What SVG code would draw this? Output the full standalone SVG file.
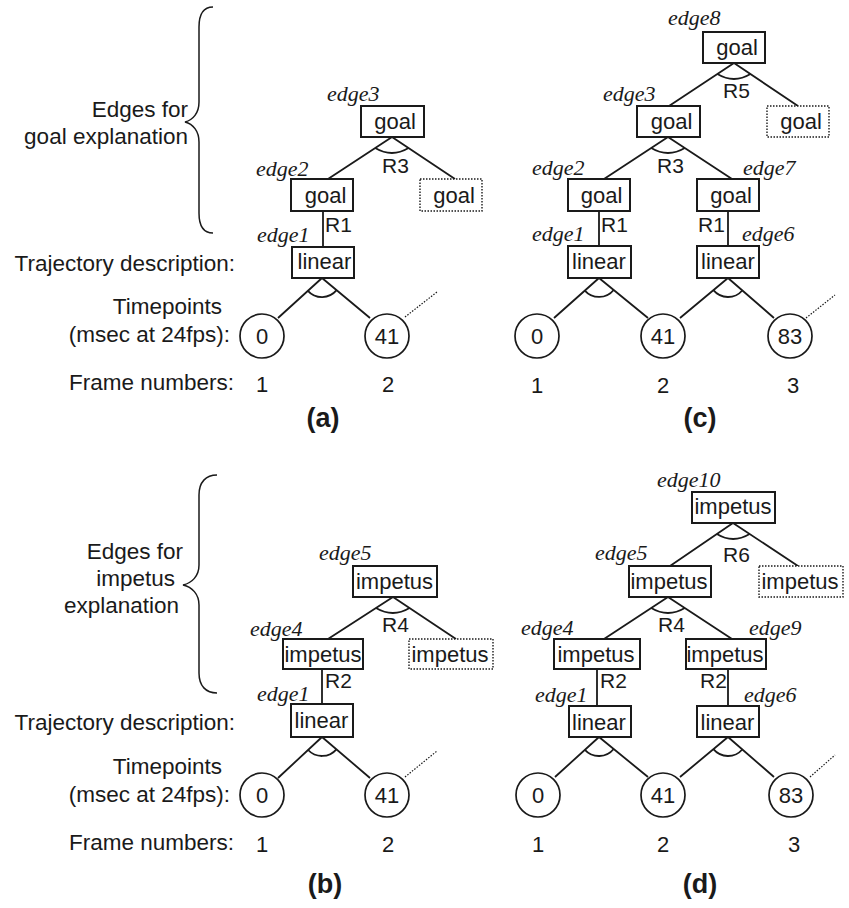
<svg xmlns="http://www.w3.org/2000/svg" width="849" height="908" viewBox="0 0 849 908">
<style>
.box{fill:#fff;stroke:#1a1a1a;stroke-width:2}
.dbox{fill:#fff;stroke:#1a1a1a;stroke-width:1.4;stroke-dasharray:1.5 1.5}
.circ{fill:#fff;stroke:#1a1a1a;stroke-width:1.7}
.ln{fill:none;stroke:#1a1a1a;stroke-width:1.8}
.dot{fill:none;stroke:#1a1a1a;stroke-width:1.2;stroke-dasharray:1.5 1.5}
.brace{fill:none;stroke:#1a1a1a;stroke-width:1.5}
.nt{font-family:"Liberation Sans",Arial,sans-serif;font-size:22px;fill:#1a1a1a;text-anchor:middle}
.el{font-family:"Liberation Serif","Times New Roman",serif;font-style:italic;font-size:22px;fill:#1a1a1a}
.rl{font-family:"Liberation Sans",Arial,sans-serif;font-size:21px;fill:#1a1a1a}
.lab{font-family:"Liberation Sans",Arial,sans-serif;font-size:22.5px;fill:#1a1a1a;text-anchor:end}
.fn{font-family:"Liberation Sans",Arial,sans-serif;font-size:22px;fill:#1a1a1a;text-anchor:middle}
.cap{font-family:"Liberation Sans",Arial,sans-serif;font-size:27px;font-weight:bold;fill:#1a1a1a;text-anchor:middle}
</style>

<!-- Left-side labels -->
<g id="labels-top">
<path class="brace" d="M213,7 C204,7 199,14 199,27 L199,102 C199,113 193,120 185,122 C193,124 199,131 199,142 L199,213 C199,226 204,233 213,233"/>
<text class="lab" x="188" y="117">Edges for</text>
<text class="lab" x="188" y="144">goal explanation</text>
<text class="lab" x="235" y="271">Trajectory description:</text>
<text class="lab" x="222" y="314">Timepoints</text>
<text class="lab" x="230" y="342">(msec at 24fps):</text>
<text class="lab" x="234" y="390">Frame numbers:</text>
</g>
<g id="labels-bottom">
<path class="brace" d="M217,475 C206,475 199,482 199,495 L199,565 C199,576 192,583 183,585 C192,587 199,594 199,605 L199,673 C199,686 206,693 217,693"/>
<text class="lab" x="183" y="559">Edges for</text>
<text class="lab" x="175" y="586">impetus</text>
<text class="lab" x="179" y="613">explanation</text>
<text class="lab" x="235" y="730">Trajectory description:</text>
<text class="lab" x="222" y="774">Timepoints</text>
<text class="lab" x="230" y="802">(msec at 24fps):</text>
<text class="lab" x="234" y="850">Frame numbers:</text>
</g>

<!-- Connectors -->
<g id="connectors">
<!-- (a) -->
<path class="ln" d="M392,137 L328,179 M392,137 L455,179"/>
<path class="ln" d="M375.2,148 Q392,158 408.5,148"/>
<path class="ln" d="M323,211 V247"/>
<path class="ln" d="M322,278 L278,318 M322,278 L370,318"/>
<path class="ln" d="M307.9,290.8 A19,19 0 0 0 336.6,290.2"/>
<path class="dot" d="M405,317 L437,292"/>
<!-- (c) -->
<path class="ln" d="M734,63 L669,106 M734,63 L798,106"/>
<path class="ln" d="M717.4,74 Q734,84 750.4,74"/>
<path class="ln" d="M668,137 L604,179 M668,137 L732,179"/>
<path class="ln" d="M651.2,148 Q668,158 684.8,148"/>
<path class="ln" d="M599,211 V246 M728,211 V246"/>
<path class="ln" d="M599,278 L554,318 M599,278 L648,318"/>
<path class="ln" d="M584.8,290.6 A19,19 0 0 0 613.7,290"/>
<path class="ln" d="M728,278 L680,318 M728,278 L774,318"/>
<path class="ln" d="M713.4,290.2 A19,19 0 0 0 742.3,290.5"/>
<path class="dot" d="M806,318 L835,295"/>
<!-- (b) -->
<path class="ln" d="M393,597 L328,639 M393,597 L456,639"/>
<path class="ln" d="M376,608 Q393,618 409.5,608"/>
<path class="ln" d="M322,669 V704"/>
<path class="ln" d="M322,737 L278,778 M322,737 L370,778"/>
<path class="ln" d="M308.1,750 A19,19 0 0 0 336.4,749.3"/>
<path class="dot" d="M405,777 L437,751"/>
<!-- (d) -->
<path class="ln" d="M733,523 L670,566 M733,523 L798,566"/>
<path class="ln" d="M716.9,534 Q733,544 749.6,534"/>
<path class="ln" d="M668,597 L604,639 M668,597 L732,639"/>
<path class="ln" d="M651.2,608 Q668,618 684.8,608"/>
<path class="ln" d="M597,669 V706 M728,669 V706"/>
<path class="ln" d="M599,737 L555,777 M599,737 L648,777"/>
<path class="ln" d="M584.9,749.8 A19,19 0 0 0 613.7,749"/>
<path class="ln" d="M728,737 L680,777 M728,737 L774,777"/>
<path class="ln" d="M713.4,749.2 A19,19 0 0 0 742.3,749.5"/>
<path class="dot" d="M810,777 L835,755"/>
<!-- rule labels -->
<text class="rl" x="382" y="173">R3</text>
<text class="rl" x="325" y="232">R1</text>
<text class="rl" x="723" y="98">R5</text>
<text class="rl" x="657" y="173">R3</text>
<text class="rl" x="601" y="232">R1</text>
<text class="rl" x="698" y="232">R1</text>
<text class="rl" x="382" y="632">R4</text>
<text class="rl" x="325" y="688">R2</text>
<text class="rl" x="723" y="562">R6</text>
<text class="rl" x="658" y="632">R4</text>
<text class="rl" x="600" y="688">R2</text>
<text class="rl" x="700" y="688">R2</text>
</g>

<!-- Panel (a) nodes -->
<g id="a-edge3"><rect class="box" x="361" y="106" width="63" height="31"/><text class="nt" x="395" y="128.5">goal</text><text class="el" x="327" y="101">edge3</text></g>
<g id="a-edge2"><rect class="box" x="291" y="179" width="62" height="32"/><text class="nt" x="325.5" y="202.5">goal</text><text class="el" x="256" y="176">edge2</text></g>
<g id="a-goal-open"><rect class="dbox" x="420" y="179" width="62" height="32"/><text class="nt" x="454" y="202.5">goal</text></g>
<g id="a-edge1"><rect class="box" x="292" y="247" width="62" height="31"/><text class="nt" x="324.5" y="269">linear</text><text class="el" x="257" y="242">edge1</text></g>
<g id="a-t0"><circle class="circ" cx="262" cy="336" r="22"/><text class="nt" x="262" y="343.5">0</text></g>
<g id="a-t41"><circle class="circ" cx="387" cy="336" r="22"/><text class="nt" x="387" y="343.5">41</text></g>
<g id="a-frames"><text class="fn" x="262" y="392">1</text><text class="fn" x="388" y="392">2</text><text class="cap" x="323" y="427">(a)</text></g>

<!-- Panel (c) nodes -->
<g id="c-edge8"><rect class="box" x="703" y="32" width="62" height="31"/><text class="nt" x="737" y="55">goal</text><text class="el" x="668" y="25">edge8</text></g>
<g id="c-edge3"><rect class="box" x="637" y="106" width="63" height="31"/><text class="nt" x="671.5" y="128.5">goal</text><text class="el" x="603" y="101">edge3</text></g>
<g id="c-goal-open"><rect class="dbox" x="767" y="106" width="62" height="31"/><text class="nt" x="801" y="128.5">goal</text></g>
<g id="c-edge2"><rect class="box" x="568" y="179" width="62" height="32"/><text class="nt" x="601.5" y="202.5">goal</text><text class="el" x="532" y="175">edge2</text></g>
<g id="c-edge7"><rect class="box" x="697" y="179" width="62" height="32"/><text class="nt" x="731" y="202.5">goal</text><text class="el" x="743" y="175">edge7</text></g>
<g id="c-edge1"><rect class="box" x="568" y="246" width="63" height="32"/><text class="nt" x="599" y="269">linear</text><text class="el" x="532" y="241">edge1</text></g>
<g id="c-edge6"><rect class="box" x="697" y="246" width="62" height="32"/><text class="nt" x="728" y="269">linear</text><text class="el" x="742" y="241">edge6</text></g>
<g id="c-t0"><circle class="circ" cx="537" cy="336" r="22"/><text class="nt" x="537" y="343.5">0</text></g>
<g id="c-t41"><circle class="circ" cx="663" cy="336" r="22"/><text class="nt" x="663" y="343.5">41</text></g>
<g id="c-t83"><circle class="circ" cx="790" cy="336" r="22"/><text class="nt" x="790" y="343.5">83</text></g>
<g id="c-frames"><text class="fn" x="537" y="393">1</text><text class="fn" x="663" y="393">2</text><text class="fn" x="793" y="393">3</text><text class="cap" x="700" y="427">(c)</text></g>

<!-- Panel (b) nodes -->
<g id="b-edge5"><rect class="box" x="353" y="566" width="84" height="31"/><text class="nt" x="394.5" y="588.5">impetus</text><text class="el" x="319" y="560">edge5</text></g>
<g id="b-edge4"><rect class="box" x="283" y="639" width="80" height="30"/><text class="nt" x="323" y="662">impetus</text><text class="el" x="250" y="636">edge4</text></g>
<g id="b-impetus-open"><rect class="dbox" x="409" y="639" width="84" height="30"/><text class="nt" x="450" y="662">impetus</text></g>
<g id="b-edge1"><rect class="box" x="291" y="704" width="62" height="33"/><text class="nt" x="321.5" y="728">linear</text><text class="el" x="257" y="701">edge1</text></g>
<g id="b-t0"><circle class="circ" cx="262" cy="795" r="22"/><text class="nt" x="262" y="803">0</text></g>
<g id="b-t41"><circle class="circ" cx="387" cy="795" r="22"/><text class="nt" x="387" y="803">41</text></g>
<g id="b-frames"><text class="fn" x="262" y="852">1</text><text class="fn" x="388" y="852">2</text><text class="cap" x="325" y="893">(b)</text></g>

<!-- Panel (d) nodes -->
<g id="d-edge10"><rect class="box" x="692" y="492" width="83" height="31"/><text class="nt" x="733" y="514">impetus</text><text class="el" x="657" y="487">edge10</text></g>
<g id="d-edge5"><rect class="box" x="629" y="566" width="82" height="31"/><text class="nt" x="669" y="588.5">impetus</text><text class="el" x="595" y="560">edge5</text></g>
<g id="d-impetus-open"><rect class="dbox" x="759" y="566" width="84" height="31"/><text class="nt" x="800" y="588.5">impetus</text></g>
<g id="d-edge4"><rect class="box" x="554" y="639" width="86" height="30"/><text class="nt" x="596" y="662">impetus</text><text class="el" x="521" y="635">edge4</text></g>
<g id="d-edge9"><rect class="box" x="686" y="639" width="80" height="30"/><text class="nt" x="725" y="662">impetus</text><text class="el" x="749" y="635">edge9</text></g>
<g id="d-edge1"><rect class="box" x="569" y="706" width="62" height="31"/><text class="nt" x="599" y="730">linear</text><text class="el" x="535" y="702">edge1</text></g>
<g id="d-edge6"><rect class="box" x="697" y="706" width="62" height="31"/><text class="nt" x="727.5" y="730">linear</text><text class="el" x="744" y="702">edge6</text></g>
<g id="d-t0"><circle class="circ" cx="538" cy="795" r="22"/><text class="nt" x="538" y="803">0</text></g>
<g id="d-t41"><circle class="circ" cx="663" cy="795" r="22"/><text class="nt" x="663" y="803">41</text></g>
<g id="d-t83"><circle class="circ" cx="791" cy="795" r="22"/><text class="nt" x="791" y="803">83</text></g>
<g id="d-frames"><text class="fn" x="538" y="852">1</text><text class="fn" x="663" y="852">2</text><text class="fn" x="794" y="852">3</text><text class="cap" x="700" y="893">(d)</text></g>
</svg>
